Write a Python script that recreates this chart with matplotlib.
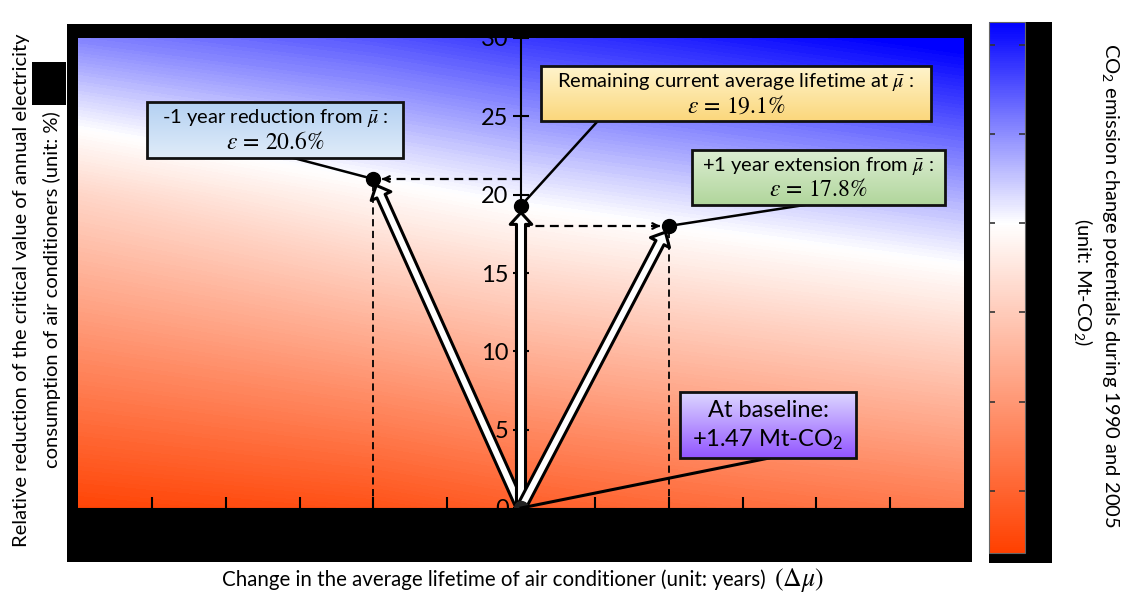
import numpy as np
import matplotlib
matplotlib.use('Agg')
import matplotlib.pyplot as plt
from matplotlib.patches import Rectangle, FancyArrowPatch
from matplotlib.colors import LinearSegmentedColormap, Normalize
from matplotlib.cm import ScalarMappable

plt.rcParams['font.family'] = ['Lato', 'DejaVu Sans']
plt.rcParams['mathtext.fontset'] = 'stix'

# points: change in lifetime vs. critical reduction (as plotted)
lifetime_change = [-1, 0, 1]
eps_plotted = [21.0, 19.3, 18.0]
eps_labels = [20.6, 19.1, 17.8]
box_titles = ['-1 year reduction from $\\bar{\\mu}$ :',
              'Remaining current average lifetime at $\\bar{\\mu}$ :',
              '+1 year extension from $\\bar{\\mu}$ :']
# gradient fill (top, bottom) for each annotation box
box_fills = [('#b4d1f2', '#e0ecf9'), ('#fff4cc', '#fbd77c'), ('#dcedd2', '#b1d69c')]
baseline_fill = ('#dcd6ff', '#9356ff')
baseline_lines = ['At baseline:', '+1.47 Mt-$\\mathregular{CO_2}$']

# background field (emission change potential, Mt-CO2) read at grid nodes
field_x = [-3, -1, 0, 1, 3]
field_y = [0, 20, 30]
field_vals = [[3.60, 3.35, 3.10, 2.90, 2.55],
              [0.80, 0.16, -0.11, -0.32, -0.74],
              [-1.10, -1.50, -1.75, -1.95, -2.40]]
cbar_ticks = [-2, -1, 0, 1, 2, 3]
vmin, vmax = -2.26, 3.70

W, H = 1128, 597
fig = plt.figure(figsize=(W / 100, H / 100), dpi=100)


def px_rect(x0, y0, x1, y1, z):
    r = Rectangle((x0 / W, 1 - y1 / H), (x1 - x0) / W, (y1 - y0) / H,
                  transform=fig.transFigure, facecolor='black',
                  edgecolor='none', zorder=z)
    fig.add_artist(r)


px_rect(67, 24, 972, 562, -1)
px_rect(989, 22, 1052, 563, -1)

ax = fig.add_axes([78 / W, 1 - 508 / H, 886 / W, 470 / H])
ax.set_facecolor('none')

cmap = LinearSegmentedColormap.from_list(
    'bwr_co2', [(0, '#0000ff'), (-vmin / (vmax - vmin), '#ffffff'), (1, '#ff4000')])
norm = Normalize(vmin=vmin, vmax=vmax)

X, Y = np.meshgrid(field_x, field_y)
ax.contourf(X, Y, np.array(field_vals), levels=np.linspace(-2.45, 3.65, 160),
            cmap=cmap, norm=norm, extend='both', antialiased=False, zorder=0)

ax.spines['left'].set_position(('data', 0))
ax.spines['left'].set_linewidth(1.5)
for s in ['top', 'right']:
    ax.spines[s].set_visible(False)
ax.set_xticks(np.arange(-2.5, 2.6, 0.5))
ax.tick_params(axis='x', direction='in', length=8, width=1.5, labelbottom=False)
ax.set_yticks(range(0, 31, 5))
ax.tick_params(axis='y', direction='inout', length=12, width=1.5, labelsize=17, pad=3)

# dashed guide lines
for x, e in zip(lifetime_change, eps_plotted):
    if x == 0:
        continue
    ax.plot([x, x], [0, e], color='black', lw=1.3, dashes=(4, 2.5), zorder=2)
    ax.plot([0, x], [e, e], color='black', lw=1.6, dashes=(4, 2.5), zorder=2)
    ax.annotate('', xy=(x, e), xytext=(x - 0.08 * np.sign(x), e),
                arrowprops=dict(arrowstyle='->', lw=1.6, color='black',
                                shrinkA=0, shrinkB=6), zorder=2)

# hollow arrows from the origin
for x, e in zip(lifetime_change, eps_plotted):
    arr = FancyArrowPatch((0, 0), (x, e),
                          arrowstyle='simple,head_length=0.85,head_width=1.55,tail_width=0.65',
                          mutation_scale=10, facecolor='white', edgecolor='black',
                          lw=2.2, shrinkA=0, shrinkB=5, zorder=3)
    ax.add_patch(arr)

ax.plot(lifetime_change, eps_plotted, 'o', color='black', ms=10, zorder=4, clip_on=False)
ax.plot([0], [0], 'o', color='#222222', ms=10, zorder=4, clip_on=False)


def gradient_box(x0, x1, y0, y1, fill):
    grad = LinearSegmentedColormap.from_list('g', list(fill))
    ax.imshow(np.linspace(0, 1, 64).reshape(-1, 1), cmap=grad, extent=(x0, x1, y0, y1),
              origin='upper', aspect='auto', interpolation='bilinear', zorder=5)
    ax.add_patch(Rectangle((x0, y0), x1 - x0, y1 - y0, facecolor='none',
                           edgecolor='#111111', lw=2, zorder=5.5))


# annotation boxes (x0, x1, y0, y1) and connectors
box_bounds = [(-2.53, -0.80, 22.34, 25.91), (0.135, 2.776, 24.70, 28.21),
              (1.158, 2.871, 19.34, 22.85)]
line_anchors = [(-1.54, 22.34), (0.52, 24.70), (1.92, 19.34)]
for i in range(3):
    x0, x1, y0, y1 = box_bounds[i]
    ax.plot([line_anchors[i][0], lifetime_change[i]],
            [line_anchors[i][1], eps_plotted[i]], color='black', lw=1.8, zorder=4)
    gradient_box(x0, x1, y0, y1, box_fills[i])
    xc = (x0 + x1) / 2
    h = y1 - y0
    ax.text(xc, y1 - 0.29 * h, box_titles[i], ha='center', va='center',
            fontsize=14.5, zorder=6)
    ax.text(xc, y0 + 0.29 * h, '$\\varepsilon\\,=\\,%.1f\\%%$' % eps_labels[i],
            ha='center', va='center', fontsize=17, zorder=6)

bx0, bx1, by0, by1 = 1.077, 2.269, 3.19, 7.40
ax.plot([1.68, 0], [by0, 0], color='black', lw=2.2, zorder=4)
gradient_box(bx0, bx1, by0, by1, baseline_fill)
ax.text((bx0 + bx1) / 2, by1 - 0.28 * (by1 - by0), baseline_lines[0],
        ha='center', va='center', fontsize=17, zorder=6)
ax.text((bx0 + bx1) / 2, by0 + 0.28 * (by1 - by0), baseline_lines[1],
        ha='center', va='center', fontsize=17, zorder=6)

ax.set_xlim(-3, 3)
ax.set_ylim(0, 30)

# black covers over the plot edges
px_rect(67, 24, 972, 38, 7)
px_rect(67, 508, 972, 562, 7)
px_rect(32, 62, 66, 105, 7)

# colorbar
cax = fig.add_axes([989 / W, 1 - 553 / H, 36 / W, 531 / H])
cb = fig.colorbar(ScalarMappable(norm=norm, cmap=cmap), cax=cax, ticks=cbar_ticks)
cax.invert_yaxis()
cax.tick_params(which='both', direction='in', length=4, width=1.2, color='#333333',
                left=True, right=True, labelleft=False, labelright=False)
cb.outline.set_edgecolor('#666666')
cb.outline.set_linewidth(0.8)

fig.text(1110 / W, 1 - 285 / H,
         '$\\mathregular{CO_2}$ emission change potentials during 1990 and 2005',
         rotation=270, ha='center', va='center', fontsize=14.5)
fig.text(1083 / W, 1 - 282 / H, '(unit: Mt-$\\mathregular{CO_2}$)',
         rotation=270, ha='center', va='center', fontsize=14.5)

fig.text(22 / W, 1 - 290 / H,
         'Relative reduction of the critical value of annual electricity',
         rotation=90, ha='center', va='center', fontsize=14.5)
fig.text(52 / W, 1 - 290 / H, 'consumption of air conditioners (unit: %)',
         rotation=90, ha='center', va='center', fontsize=14.5)

fig.text(766 / W, 1 - 580 / H,
         'Change in the average lifetime of air conditioner (unit: years)',
         ha='right', va='center', fontsize=14.8)
fig.text(774 / W, 1 - 580 / H, '$(\\Delta\\mu)$',
         ha='left', va='center', fontsize=18.5)

fig.savefig('out.png', dpi=100)
